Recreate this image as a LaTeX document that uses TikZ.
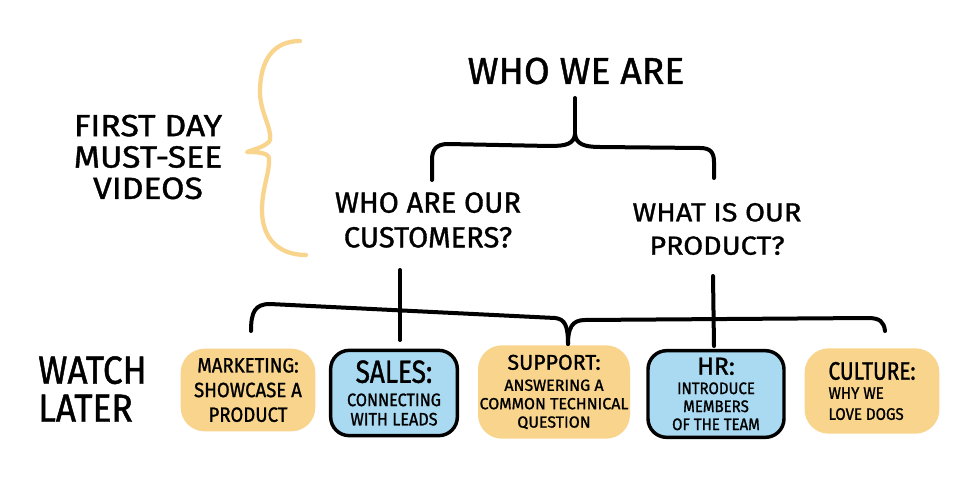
\documentclass[tikz,border=0pt]{standalone}
\usepackage{fontspec}
\setmainfont[FakeStretch=0.9,FakeBold=1.2]{Fira Sans}
\newfontfamily\hA[FakeStretch=0.82,FakeBold=1.2]{Fira Sans}
\newfontfamily\hB[FakeStretch=0.9,FakeBold=1.2]{Fira Sans}
\newfontfamily\hC[FakeStretch=1.0,FakeBold=1.2]{Fira Sans}
\newfontfamily\hD[FakeStretch=1.1,FakeBold=1.2]{Fira Sans}
\definecolor{boxorange}{HTML}{F9D48C}
\definecolor{boxblue}{HTML}{A9DAF2}
\newcommand{\fs}[2]{\fontsize{#1}{#2}\selectfont}
\begin{document}
\begin{tikzpicture}[x=0.75pt,y=-0.75pt,line cap=round,line join=round,
  ink/.style={draw=black,line width=3pt},
  brace/.style={draw=boxorange,line width=3.2pt},
  label/.style={inner sep=0pt,align=center,text=black},
  obox/.style={fill=boxorange,rounded corners=18pt,align=center,inner sep=0pt},
  bbox/.style={fill=boxblue,draw=black,line width=2.6pt,rounded corners=14pt,align=center,inner sep=0pt}]
\useasboundingbox (0,0) rectangle (960,492);
\fill[white] (0,0) rectangle (960,492);

% titles
\node[label,font=\hC\fs{28}{30}] (who) at (576,71) {WHO WE ARE};
\node[label,font=\hC\fs{21.8}{26}] (cust) at (428,220) {WHO ARE OUR\\CUSTOMERS?};
\node[label,font=\hD\fs{19.6}{25}] (prod) at (717,229) {WHAT IS OUR\\PRODUCT?};
\node[label,font=\hD\fs{23}{23.5}] (first) at (148,157) {FIRST DAY\\MUST-SEE\\VIDEOS};
\node[label,align=left,anchor=west,font=\hB\fs{29.4}{28.5}] (watch) at (38,389) {WATCH\\LATER};

% boxes
\node[obox,minimum width=101pt,minimum height=62pt,font=\hB\fs{15.5}{18.5}] (mkt) at (248,390)
  {MARKETING:\\SHOWCASE A\\PRODUCT};
\node[bbox,minimum width=95pt,minimum height=64pt,font=\hB\fs{13.5}{14.5}] (sales) at (394,393)
  {{\hA\fs{24}{24}SALES:}\\[3pt]CONNECTING\\WITH LEADS};
\node[obox,minimum width=114pt,minimum height=70pt,font=\hC\fs{12}{13.8}] (sup) at (554,392)
  {{\hC\fs{16}{16}SUPPORT:}\\[2pt]ANSWERING A\\COMMON TECHNICAL\\QUESTION};
\node[bbox,minimum width=102pt,minimum height=65pt,font=\hB\fs{12.5}{13.5}] (hr) at (716,394)
  {{\hC\fs{18.5}{18.5}HR:}\\[1pt]INTRODUCE\\MEMBERS\\OF THE TEAM};
\node[obox,minimum width=101pt,minimum height=64pt,font=\hB\fs{12.5}{15.8},align=left] (cult) at (872,391)
  {{\hA\fs{19}{19}CULTURE:}\\[-1.5pt]WHY WE\\LOVE DOGS};

% top brace
\coordinate (tstem) at (575,98);
\coordinate (tcusp) at (575,134);
\coordinate (tl) at (432,180);
\coordinate (tr) at (714,178);
\draw[ink] (tstem) -- (tcusp);
\draw[ink] (tcusp) .. controls (574,144) and (566,146) .. (550,146)
  -- (448,144) .. controls (436,144) and (432,150) .. (432,160) -- (tl);
\draw[ink] (tcusp) .. controls (576,144) and (584,147) .. (600,147)
  -- (700,148) .. controls (710,148) and (714,152) .. (714,162) -- (tr);

% bottom brace
\coordinate (bl) at (251,331);
\coordinate (bc) at (568,344);
\coordinate (br) at (885,331);
\draw[ink] (bl) .. controls (251,312) and (255,304) .. (270,304)
  -- (555,318) .. controls (565,319) and (568,326) .. (bc);
\draw[ink] (bc) .. controls (568,328) and (572,320) .. (585,320)
  -- (868,318) .. controls (880,318) and (884,322) .. (br);

% verticals from questions
\coordinate (cb) at (400,340);
\coordinate (pb) at (714,346);
\coordinate (ct) at (400,270);
\coordinate (pt) at (713,276);
\draw[ink] (ct) -- (cb);
\draw[ink] (pt) -- (pb);

% left yellow brace
\draw[brace] (300,41) .. controls (272,41) and (260,62) .. (260,92)
  .. controls (260,112) and (272,128) .. (270,140)
  .. controls (268,146) and (252,150) .. (247,152)
  .. controls (254,152) and (268,152) .. (269,158)
  .. controls (270,172) and (262,188) .. (262,210)
  .. controls (262,240) and (280,255) .. (306,255);
\end{tikzpicture}
\end{document}
